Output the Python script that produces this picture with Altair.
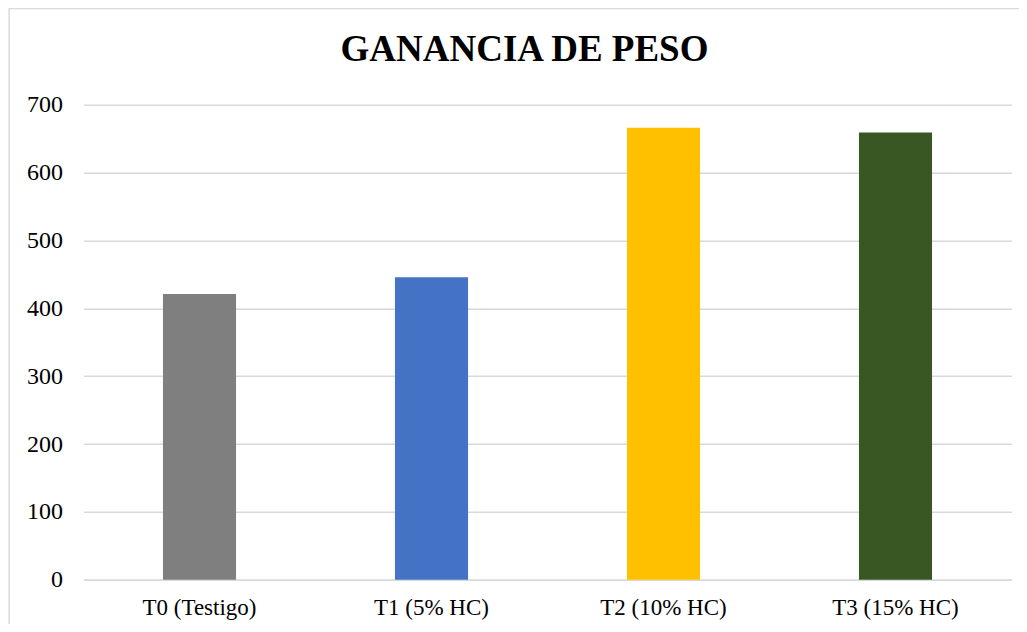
import altair as alt
import pandas as pd

categories = ["T0 (Testigo)", "T1 (5% HC)", "T2 (10% HC)", "T3 (15% HC)"]
values = [421, 446, 666, 659]
colors = ["#7f7f7f", "#4472c4", "#ffc000", "#385723"]
y_ticks = [0, 100, 200, 300, 400, 500, 600, 700]

df = pd.DataFrame({"cat": categories, "val": values})

W, H = 928, 475
FONT = "Liberation Serif"

bars = alt.Chart(df).mark_bar().encode(
    x=alt.X("cat:N", sort=categories, title=None,
            scale=alt.Scale(paddingInner=0.685, paddingOuter=0.3425),
            axis=alt.Axis(labelAngle=0, ticks=False, domain=True, domainColor="#d9d9d9",
                          domainWidth=1.5, labelFont=FONT, labelFontSize=23,
                          labelColor="#000000", labelPadding=17, grid=False)),
    y=alt.Y("val:Q", title=None,
            scale=alt.Scale(domain=[0, 700], nice=False),
            axis=alt.Axis(values=y_ticks, ticks=False, domain=False, grid=True,
                          gridColor="#d9d9d9", gridWidth=1.5, labelFont=FONT,
                          labelFontSize=24, labelColor="#000000", labelPadding=21)),
    color=alt.Color("cat:N", scale=alt.Scale(domain=categories, range=colors), legend=None),
)

border = alt.Chart(alt.Data(values=[{"a": 1}])).mark_rect(
    filled=False, stroke="#d9d9d9", strokeWidth=1.5
).encode(
    x=alt.value(-74.3), x2=alt.value(W + 120),
    y=alt.value(-96.3), y2=alt.value(H + 120),
)

chart = alt.layer(border, bars).properties(
    width=W, height=H,
    title=alt.TitleParams("GANANCIA DE PESO", font=FONT, fontSize=37, fontWeight="bold",
                          color="#000000", anchor="middle", dx=-23, offset=-90.5,
                          baseline="alphabetic"),
    autosize=alt.AutoSizeParams(type="none"),
    padding={"left": 75.5, "top": 96.8, "right": 7.5, "bottom": 44},
).configure_view(stroke=None)

chart.save("out.html", embed_options={"renderer": "svg", "actions": False})
